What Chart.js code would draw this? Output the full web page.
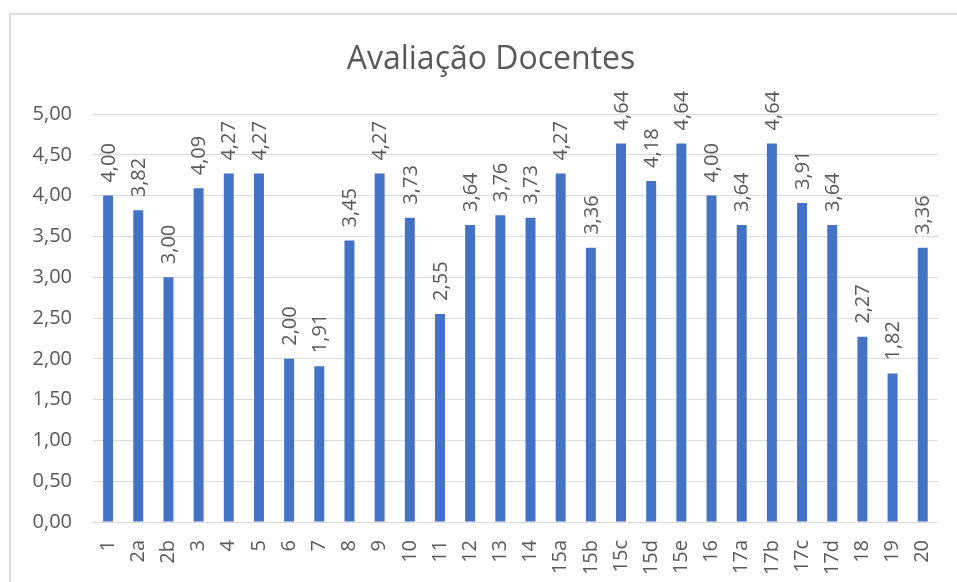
<!DOCTYPE html>
<html>
<head>
<meta charset="utf-8">
<script src="https://cdn.jsdelivr.net/npm/chart.js@4/dist/chart.umd.min.js"></script>
<style>
  html, body { margin: 0; padding: 0; background: #fff; }
  #wrap { position: relative; width: 957px; height: 582px; overflow: hidden; }
  #frame { position: absolute; left: 9px; top: 13px; width: 1000px; height: 700px; border: 2px solid #dedede; box-sizing: border-box; }
  #avaliacao { position: absolute; left: 0; top: 0; }
</style>
</head>
<body>
<div id="wrap">
  <div id="frame"></div>
  <canvas id="avaliacao" width="957" height="582"></canvas>
</div>
<script>
const titulo = 'Avaliação Docentes';
const labels = ['1', '2a', '2b', '3', '4', '5', '6', '7', '8', '9', '10', '11', '12', '13', '14',
  '15a', '15b', '15c', '15d', '15e', '16', '17a', '17b', '17c', '17d', '18', '19', '20'];
const notas = [4.00, 3.82, 3.00, 4.09, 4.27, 4.27, 2.00, 1.91, 3.45, 4.27, 3.73, 2.55, 3.64, 3.76, 3.73,
  4.27, 3.36, 4.64, 4.18, 4.64, 4.00, 3.64, 4.64, 3.91, 3.64, 2.27, 1.82, 3.36];

const fonte = '"Open Sans", "Noto Sans", sans-serif';
const cinza = '#595959';

const fmt = v => v.toFixed(2).replace('.', ',');

// título centrado na área toda do gráfico (como no Excel)
const tituloPlugin = {
  id: 'tituloPlugin',
  afterDraw(chart) {
    const ctx = chart.ctx;
    ctx.save();
    ctx.fillStyle = cinza;
    ctx.font = '32px ' + fonte;
    ctx.textAlign = 'center';
    ctx.textBaseline = 'middle';
    ctx.fillText(titulo, 491, 60);
    ctx.restore();
  }
};

// rótulos de dados verticais acima das barras
const rotulos = {
  id: 'rotulos',
  afterDatasetsDraw(chart) {
    const ctx = chart.ctx;
    const meta = chart.getDatasetMeta(0);
    ctx.save();
    ctx.fillStyle = cinza;
    ctx.font = '20px ' + fonte;
    ctx.textAlign = 'left';
    ctx.textBaseline = 'middle';
    meta.data.forEach((bar, i) => {
      ctx.save();
      ctx.translate(bar.x, bar.y - 13);
      ctx.rotate(-Math.PI / 2);
      ctx.fillText(fmt(notas[i]), 0, 1);
      ctx.restore();
    });
    ctx.restore();
  }
};

new Chart(document.getElementById('avaliacao').getContext('2d'), {
  type: 'bar',
  data: {
    labels: labels,
    datasets: [{
      data: notas,
      backgroundColor: '#4472c4',
      barPercentage: 0.33,
      categoryPercentage: 1
    }]
  },
  options: {
    responsive: false,
    animation: false,
    layout: { padding: { left: 10, right: 14, top: 114, bottom: 0 } },
    plugins: {
      legend: { display: false },
      tooltip: { enabled: false },
      title: { display: false }
    },
    scales: {
      x: {
        grid: { display: false },
        border: { color: '#d9d9d9', width: 1 },
        ticks: { color: cinza, font: { family: fonte, size: 20 }, minRotation: 90, maxRotation: 90, padding: 10 },
        afterFit(s) { s.height = 60; }
      },
      y: {
        min: 0,
        max: 5,
        grid: { color: '#d9d9d9', lineWidth: 1, drawTicks: false },
        border: { display: false },
        ticks: { stepSize: 0.5, color: cinza, font: { family: fonte, size: 20 }, padding: 21, callback: v => fmt(v) },
        afterFit(s) { s.width = 83; }
      }
    }
  },
  plugins: [rotulos, tituloPlugin]
});
</script>
</body>
</html>
